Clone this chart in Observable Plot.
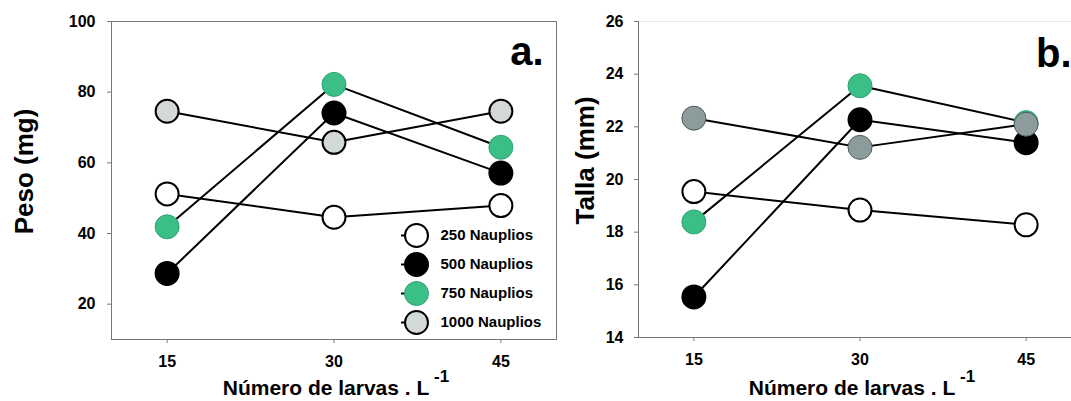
<!DOCTYPE html>
<html>
<head>
<meta charset="utf-8">
<script src="https://cdn.jsdelivr.net/npm/d3@7"></script>
<script src="https://cdn.jsdelivr.net/npm/@observablehq/plot@0.6"></script>
<style>
  html, body { margin: 0; padding: 0; background: #fff; overflow: hidden; }
  #wrap { position: relative; width: 1071px; height: 401px; overflow: hidden; background: #fff; }
  #wrap > svg, #wrap > figure { position: absolute; margin: 0; }
  svg text { font-family: "Liberation Sans", Arial, Helvetica, sans-serif !important; font-weight: bold !important; }
</style>
</head>
<body>
<div id="wrap"></div>
<script>
// ---------- data ----------
const larvas = [15, 30, 45];
const nauplios = ["250 Nauplios", "500 Nauplios", "750 Nauplios", "1000 Nauplios"];

const peso250 = [51.2, 44.6, 47.9];
const peso500 = [28.7, 74.1, 57.1];
const peso750 = [41.9, 82.2, 64.4];
const peso1000 = [74.6, 65.8, 74.6];

const talla250 = [19.54, 18.84, 18.28];
const talla500 = [15.54, 22.27, 21.40];
const talla750 = [18.39, 23.56, 22.16];
const talla1000 = [22.33, 21.22, 22.10];

const xTicks = [15, 30, 45];
const yTicksA = [20, 40, 60, 80, 100];
const yTicksB = [14, 16, 18, 20, 22, 24, 26];

// ---------- styles ----------
const green = "#3cbe87";
const styleA = [
  {fill: "white", stroke: "black", sw: 2, r: 11.5},
  {fill: "black", stroke: "black", sw: 2, r: 11.5},
  {fill: green, stroke: "#2ea473", sw: 1, r: 12},
  {fill: "#d3d9d9", stroke: "black", sw: 2, r: 11.5}
];
const styleB = [
  {fill: "white", stroke: "black", sw: 2, r: 11.5},
  {fill: "black", stroke: "black", sw: 2, r: 11.5},
  {fill: green, stroke: "#2ea473", sw: 1, r: 12},
  {fill: "#8c9b9b", stroke: "#4f5c5c", sw: 1, r: 12}
];

function rows(seriesValues) {
  const out = [];
  seriesValues.forEach((vals, s) => vals.forEach((v, i) => out.push({serie: nauplios[s], x: larvas[i], y: v})));
  return out;
}
const dataA = rows([peso250, peso500, peso750, peso1000]);
const dataB = rows([talla250, talla500, talla750, talla1000]);

const axisGray = "#777";

function seriesMarks(data, styles) {
  const marks = [];
  nauplios.forEach((name, s) => {
    const st = styles[s];
    marks.push(Plot.line(data, {filter: d => d.serie === name, x: "x", y: "y", stroke: "black", strokeWidth: 2}));
    marks.push(Plot.dot(data, {filter: d => d.serie === name, x: "x", y: "y", r: st.r, fill: st.fill, stroke: st.stroke, strokeWidth: st.sw}));
  });
  return marks;
}

const wrap = document.getElementById("wrap");

// ---------- panel a ----------
const plotA = Plot.plot({
  width: 571, height: 401,
  marginLeft: 111, marginRight: 15, marginTop: 21, marginBottom: 62,
  x: {domain: [10, 50]},
  y: {domain: [10, 100]},
  style: {background: "transparent", overflow: "visible", fontWeight: "bold"},
  marks: [
    Plot.frame({stroke: axisGray, strokeWidth: 1}),
    Plot.axisY({ticks: yTicksA, tickSize: 4, tickPadding: 12, stroke: axisGray, fill: "black", fontSize: 16, fontWeight: "bold", label: null}),
    Plot.axisX({ticks: xTicks, tickSize: 4, tickPadding: 12, stroke: axisGray, fill: "black", fontSize: 16, fontWeight: "bold", label: null}),
    ...seriesMarks(dataA, styleA),
    Plot.text(["a."], {frameAnchor: "top-right", textAnchor: "end", lineAnchor: "bottom", dx: -13, dy: 43, fontSize: 40, fontWeight: "bold", fill: "black"}),
    Plot.text(["Peso (mg)"], {frameAnchor: "left", rotate: -90, textAnchor: "middle", lineAnchor: "bottom", dx: -79, dy: -9, fontSize: 26, fontWeight: "bold", fill: "black"}),
    Plot.text(["Número de larvas . L"], {frameAnchor: "bottom", textAnchor: "middle", lineAnchor: "bottom", dx: -8, dy: 55, fontSize: 21, fontWeight: "bold", fill: "black"}),
    Plot.text(["-1"], {frameAnchor: "bottom", textAnchor: "start", lineAnchor: "bottom", dx: 100, dy: 42, fontSize: 17, fontWeight: "bold", fill: "black"})
  ]
});
plotA.style.left = "0px";
plotA.style.top = "0px";
wrap.appendChild(plotA);

// ---------- legend (panel a) ----------
const legend = Plot.plot({
  width: 160, height: 111,
  marginLeft: 0, marginRight: 130, marginTop: 15, marginBottom: 9,
  x: {domain: [-1, 1], axis: null},
  y: {type: "point", domain: nauplios, padding: 0, axis: null},
  style: {background: "transparent", overflow: "visible", fontWeight: "bold"},
  marks: [
    Plot.ruleY(nauplios, {y: d => d, x1: -1, x2: 0, stroke: "black", strokeWidth: 2}),
    ...nauplios.map((name, s) => Plot.dot([name], {x: 0, y: d => d, r: styleA[s].r, fill: styleA[s].fill, stroke: styleA[s].stroke, strokeWidth: styleA[s].sw})),
    Plot.text(nauplios, {x: 1, y: d => d, text: d => d, textAnchor: "start", dx: 9, fontSize: 15, fontWeight: "bold", fill: "black"})
  ]
});
legend.style.left = "401px";
legend.style.top = "220px";
wrap.appendChild(legend);

// ---------- panel b ----------
const plotB = Plot.plot({
  width: 561, height: 401,
  marginLeft: 108, marginRight: 10, marginTop: 21, marginBottom: 64,
  x: {domain: [10, 50]},
  y: {domain: [14, 26]},
  style: {background: "transparent", overflow: "visible", fontWeight: "bold"},
  marks: [
    Plot.ruleY([26], {stroke: "#e6e6e6", strokeWidth: 1}),
    Plot.ruleY([14], {stroke: axisGray, strokeWidth: 1}),
    Plot.ruleX([10], {stroke: axisGray, strokeWidth: 1}),
    Plot.axisY({ticks: yTicksB, tickSize: 4, tickPadding: 11, stroke: axisGray, fill: "black", fontSize: 16, fontWeight: "bold", label: null}),
    Plot.axisX({ticks: xTicks, tickSize: 4, tickPadding: 12, stroke: axisGray, fill: "black", fontSize: 16, fontWeight: "bold", label: null}),
    ...seriesMarks(dataB, styleB),
    Plot.text(["b."], {frameAnchor: "top-right", textAnchor: "end", lineAnchor: "bottom", dx: -10, dy: 45, fontSize: 40, fontWeight: "bold", fill: "black"}),
    Plot.text(["Talla (mm)"], {frameAnchor: "left", rotate: -90, textAnchor: "middle", lineAnchor: "bottom", dx: -45, dy: -19, fontSize: 26, fontWeight: "bold", fill: "black"}),
    Plot.text(["Número de larvas . L"], {frameAnchor: "bottom", textAnchor: "middle", lineAnchor: "bottom", dx: -8, dy: 57, fontSize: 21, fontWeight: "bold", fill: "black"}),
    Plot.text(["-1"], {frameAnchor: "bottom", textAnchor: "start", lineAnchor: "bottom", dx: 100, dy: 44, fontSize: 17, fontWeight: "bold", fill: "black"})
  ]
});
plotB.style.left = "530px";
plotB.style.top = "0px";
wrap.appendChild(plotB);
</script>
</body>
</html>
